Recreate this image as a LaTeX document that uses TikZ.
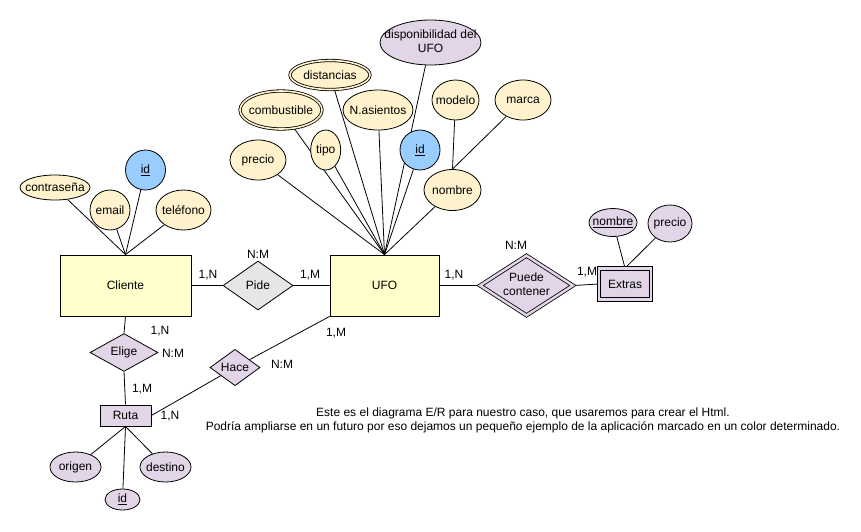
\documentclass[tikz,border=0pt]{standalone}
\usepackage{fontspec}
\setmainfont{Liberation Sans}
\usetikzlibrary{shapes.geometric,positioning,backgrounds}
\definecolor{entyellow}{HTML}{FFFFCC}
\definecolor{attryellow}{HTML}{FFF2CC}
\definecolor{keyblue}{HTML}{99CCFF}
\definecolor{newpurple}{HTML}{E1D5E7}
\definecolor{relgray}{HTML}{E6E6E6}
\newcommand{\nw}[1]{\makebox[0pt]{#1}}
\tikzset{
  entity/.style={rectangle,draw,fill=entyellow,line width=0.8pt,inner sep=0pt},
  weak/.style={entity,fill=newpurple,double=newpurple,double distance=2.5pt},
  attr/.style={ellipse,draw,fill=attryellow,line width=0.8pt,inner sep=0pt},
  multiattr/.style={attr,double=attryellow,double distance=1.6pt},
  keyattr/.style={circle,draw,fill=keyblue,line width=0.8pt,inner sep=0pt,minimum size=40pt},
  relation/.style={diamond,draw,line width=0.8pt,inner sep=0pt},
  card/.style={inner sep=1pt},
  link/.style={line width=0.8pt}
}

\begin{document}
\begin{tikzpicture}[x=1pt,y=-1pt,every node/.style={font=\fontsize{12}{14}\selectfont}]
  \useasboundingbox (0,0) rectangle (861,531);
  % entidades
  \node[entity, minimum width=131pt, minimum height=61pt] (cliente) at (125.5,285.5) {Cliente};
  \node[entity, minimum width=109pt, minimum height=61pt] (ufo) at (384.5,285.5) {UFO};
  \node[entity, fill=newpurple, minimum width=51pt, minimum height=21pt] (ruta) at (125.5,415.5) {Ruta};
  \node[weak, minimum width=52pt, minimum height=31pt] (extras) at (625,284) {Extras};
  % relaciones
  \node[relation, fill=relgray, minimum width=70pt, minimum height=49pt] (pide) at (258,285.5) {Pide};
  \node[relation, fill=newpurple, double=newpurple, double distance=2.5pt, minimum width=93pt, minimum height=60pt] (puede) at (526.5,285.5) {\nw{\begin{tabular}{@{}c@{}}Puede\\contener\end{tabular}}};
  \node[relation, fill=newpurple, minimum width=68pt, minimum height=35pt] (elige) at (124,352.5) {Elige};
  \node[relation, fill=newpurple, minimum width=50pt, minimum height=35pt] (hace) at (235,367.5) {Hace};
  % atributos de Cliente
  \node[attr, minimum width=70pt, minimum height=25pt] (contrasena) at (55,187.5) {\nw{contraseña}};
  \node[attr, minimum width=40pt, minimum height=40pt] (email) at (110,210) {\nw{email}};
  \node[keyattr] (idcliente) at (145.5,170) {\underline{id}};
  \node[attr, minimum width=55pt, minimum height=40pt] (telefono) at (183.5,210) {\nw{teléfono}};
  % atributos de UFO
  \node[attr, minimum width=56pt, minimum height=40pt] (precioufo) at (258,160) {\nw{precio}};
  \node[multiattr, minimum width=82pt, minimum height=38pt] (combustible) at (281,110) {\nw{combustible}};
  \node[multiattr, minimum width=80pt, minimum height=29pt] (distancias) at (330,75) {\nw{distancias}};
  \node[attr, minimum width=30pt, minimum height=40pt] (tipo) at (325.7,150) {\nw{tipo}};
  \node[attr, minimum width=70pt, minimum height=40pt] (asientos) at (378,110) {\nw{N.asientos}};
  \node[attr, fill=newpurple, minimum width=101pt, minimum height=45pt] (disponib) at (430.5,42.5) {\nw{\begin{tabular}{@{}c@{}}disponibilidad del\\UFO\end{tabular}}};
  \node[keyattr] (idufo) at (420,150) {\underline{id}};
  \node[attr, minimum width=47pt, minimum height=40pt] (modelo) at (455.5,100) {\nw{modelo}};
  \node[attr, minimum width=56pt, minimum height=40pt] (marca) at (523,100) {\nw{marca}};
  \node[attr, minimum width=57pt, minimum height=41pt] (nombreufo) at (452.5,190) {\nw{nombre}};
  % atributos de Extras
  \node[attr, fill=newpurple, minimum width=48pt, minimum height=28pt] (nombreext) at (613,222.5) {\nw{\underline{nombre}}};
  \node[attr, fill=newpurple, minimum width=44pt, minimum height=37pt] (precioext) at (670,223.5) {\nw{precio}};
  % atributos de Ruta
  \node[attr, fill=newpurple, minimum width=51pt, minimum height=30pt] (origen) at (75.5,467) {\nw{origen}};
  \node[attr, fill=newpurple, minimum width=51pt, minimum height=30pt] (destino) at (165.5,467) {\nw{destino}};
  \node[attr, fill=newpurple, minimum width=35pt, minimum height=21pt] (idruta) at (122.5,499.5) {\nw{\underline{id}}};
  % cardinalidades
  \node[card] (cpide) at (258,254) {N:M};
  \node[card] (cpide1) at (208,275) {1,N};
  \node[card] (cpide2) at (310,275) {1,M};
  \node[card] (cpuede) at (516,245) {N:M};
  \node[card] (cpuede1) at (454,275) {1,N};
  \node[card] (cpuede2) at (587,272) {1,M};
  \node[card] (celige1) at (160,331) {1,N};
  \node[card] (celige) at (173,353) {N:M};
  \node[card] (celige2) at (142,389) {1,M};
  \node[card] (chace) at (282,364) {N:M};
  \node[card] (chace1) at (336,333) {1,M};
  \node[card] (chace2) at (170,416) {1,N};
  % nota
  \node[align=center] (nota) at (523,420) {Este es el diagrama E/R para nuestro caso, que usaremos para crear el Html.\\
    Podría ampliarse en un futuro por eso dejamos un pequeño ejemplo de la aplicación marcado en un color determinado.};
  % lineas
  \begin{scope}[on background layer]
    \foreach \a in {contrasena,email,idcliente,telefono}
      \draw[link] (\a) -- (cliente.north);
    \foreach \a in {precioufo,combustible,distancias,tipo,asientos,disponib,idufo,nombreufo}
      \draw[link] (\a) -- (ufo.north);
    \draw[link] (modelo) -- (nombreufo.north);
    \draw[link] (marca) -- (nombreufo.north);
    \draw[link] (nombreext) -- (extras.north);
    \draw[link] (precioext) -- (extras.north);
    \foreach \a in {origen,destino,idruta}
      \draw[link] (\a) -- (ruta.south);
    \draw[link] (cliente.east) -- (pide.west);
    \draw[link] (pide.east) -- (ufo.west);
    \draw[link] (ufo.east) -- (puede.west);
    \draw[link] (puede.east) -- (extras.west);
    \draw[link] (cliente.south) -- (elige.north);
    \draw[link] (elige.south) -- (ruta.north);
    \draw[link] (ruta.east) -- (hace);
    \draw[link] (hace) -- (ufo.south west);
  \end{scope}
\end{tikzpicture}
\end{document}
